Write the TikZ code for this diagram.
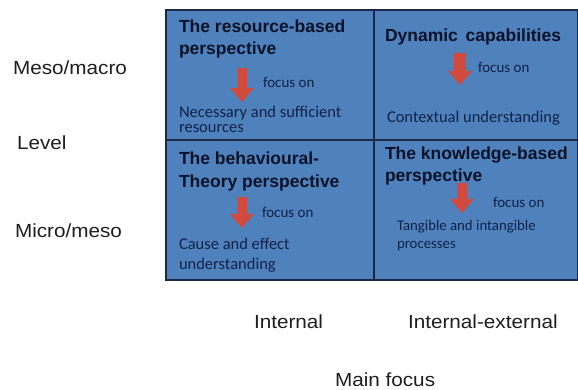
\documentclass[tikz,border=0pt]{standalone}
\usepackage{fontspec}
\setmainfont{Liberation Sans}
\newfontfamily\labelfont[FakeStretch=1.09]{Liberation Sans}
\newfontfamily\calib{Carlito}
\definecolor{cellblue}{RGB}{79,129,189}
\definecolor{gridline}{RGB}{28,40,72}
\definecolor{arrowred}{RGB}{208,74,62}
\definecolor{titletext}{RGB}{10,18,40}
\definecolor{smalltext}{RGB}{18,34,70}
\definecolor{labeltext}{RGB}{30,30,30}
\newcommand\focusarrow[4]{% x, top, tip, shaft half width
  \fill[arrowred] (#1-#4,#2) -- (#1+#4,#2) -- (#1+#4,#3-14) -- (#1+12,#3-14)
    -- (#1,#3) -- (#1-12,#3-14) -- (#1-#4,#3-14) -- cycle;}
\begin{document}
\begin{tikzpicture}[x=1pt,y=-1pt,
  every node/.style={inner sep=0pt, outer sep=0pt},
  cell/.style={anchor=north west, fill=cellblue, draw=gridline, line width=1.2pt},
  lbl/.style={anchor=west, text=labeltext, font=\labelfont\fontsize{19}{22}\selectfont},
  title/.style={anchor=west, align=left, text=titletext, font=\fontsize{17.5}{22}\selectfont\bfseries},
  small/.style={anchor=west, align=left, text=smalltext, font=\calib\fontsize{16.5}{15}\selectfont},
  focus/.style={anchor=west, text=smalltext, font=\calib\fontsize{15}{18}\selectfont},
]
\useasboundingbox (0,0) rectangle (578,389);

% grid cells
\node[cell, minimum width=208pt, minimum height=130pt] (c11) at (166,10) {};
\node[cell, minimum width=204pt, minimum height=130pt] (c12) at (374,10) {};
\node[cell, minimum width=208pt, minimum height=140pt] (c21) at (166,140) {};
\node[cell, minimum width=204pt, minimum height=140pt] (c22) at (374,140) {};

% arrows
\focusarrow{242}{68}{102}{5}
\focusarrow{460}{53}{85}{6}
\focusarrow{242}{197}{228}{5}
\focusarrow{462}{183}{213}{5}

% cell 1
\node[title] (t11) at (179,39) {The resource-based\\perspective};
\node[focus] (f11) at (263,82) {focus on};
\node[small] (s11) at (179,119.5) {Necessary and sufficient\\resources};

% cell 2
\node[title] (t12) at (385,37) {Dynamic\, capabilities};
\node[focus] (f12) at (478,67) {focus on};
\node[small] (s12) at (387,118) {Contextual understanding};

% cell 3
\node[title, font=\fontsize{17.5}{23}\selectfont\bfseries] (t21) at (179,171.5) {The behavioural-\\Theory perspective};
\node[focus] (f21) at (262,212) {focus on};
\node[small, font=\calib\fontsize{16.5}{20}\selectfont] (s21) at (179,255) {Cause and effect\\understanding};

% cell 4
\node[title] (t22) at (385,166) {The knowledge-based\\perspective};
\node[focus] (f22) at (493,202) {focus on};
\node[small, font=\calib\fontsize{14.8}{18}\selectfont] (s22) at (397,236) {Tangible and intangible\\processes};

% axis labels
\node[lbl] (mm) at (13,68) {Meso/macro};
\node[lbl] (lv) at (17,143) {Level};
\node[lbl] (mi) at (15,231) {Micro/meso};
\node[lbl] (in) at (254,322) {Internal};
\node[lbl] (ie) at (408,322) {Internal-external};
\node[lbl] (mf) at (335,379.5) {Main focus};
\end{tikzpicture}
\end{document}
